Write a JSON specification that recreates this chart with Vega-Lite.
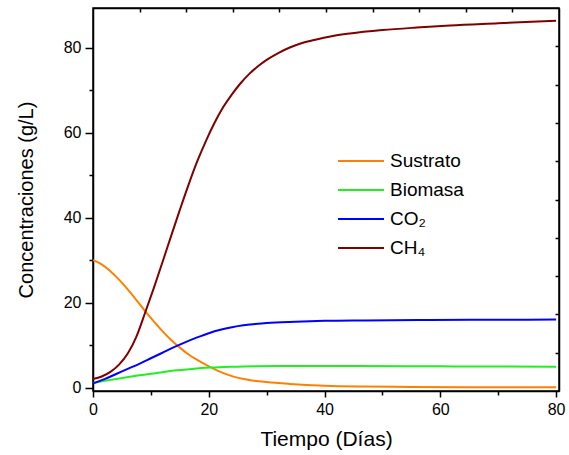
{
  "$schema": "https://vega.github.io/schema/vega-lite/v6.json",
  "autosize": "none",
  "width": 466,
  "height": 383,
  "padding": {"left": 93, "top": 8, "right": 10, "bottom": 64},
  "background": "white",
  "config": {
    "font": "Liberation Sans",
    "view": {"stroke": "black", "strokeWidth": 1.5},
    "axis": {
      "grid": false,
      "domainColor": "black",
      "domainWidth": 1.5,
      "tickColor": "black",
      "tickWidth": 1.5,
      "labelColor": "black",
      "titleColor": "black",
      "labelFont": "Liberation Sans",
      "titleFont": "Liberation Sans",
      "labelFontSize": 16,
      "titleFontSize": 20,
      "titleFontWeight": "normal",
      "labelFlush": false
    }
  },
  "datasets": {
    "curves": [
      {"t": 0, "serie": "Sustrato", "v": 30.0},
      {"t": 1.5, "serie": "Sustrato", "v": 29.0},
      {"t": 3, "serie": "Sustrato", "v": 27.4},
      {"t": 4.5, "serie": "Sustrato", "v": 25.4},
      {"t": 6, "serie": "Sustrato", "v": 23.1},
      {"t": 7.5, "serie": "Sustrato", "v": 20.6},
      {"t": 9, "serie": "Sustrato", "v": 18.0},
      {"t": 10.5, "serie": "Sustrato", "v": 15.6},
      {"t": 12, "serie": "Sustrato", "v": 13.3},
      {"t": 13.5, "serie": "Sustrato", "v": 11.2},
      {"t": 15, "serie": "Sustrato", "v": 9.4},
      {"t": 16.5, "serie": "Sustrato", "v": 7.8},
      {"t": 18, "serie": "Sustrato", "v": 6.5},
      {"t": 20, "serie": "Sustrato", "v": 5.0},
      {"t": 22, "serie": "Sustrato", "v": 3.7},
      {"t": 24, "serie": "Sustrato", "v": 2.7},
      {"t": 27, "serie": "Sustrato", "v": 1.8},
      {"t": 30, "serie": "Sustrato", "v": 1.3},
      {"t": 34, "serie": "Sustrato", "v": 0.87},
      {"t": 40, "serie": "Sustrato", "v": 0.45},
      {"t": 46.7, "serie": "Sustrato", "v": 0.25},
      {"t": 55, "serie": "Sustrato", "v": 0.15},
      {"t": 65, "serie": "Sustrato", "v": 0.1},
      {"t": 80, "serie": "Sustrato", "v": 0.08},
      {"t": 0, "serie": "Biomasa", "v": 1.1},
      {"t": 2.5, "serie": "Biomasa", "v": 1.7},
      {"t": 5.6, "serie": "Biomasa", "v": 2.4},
      {"t": 8.0, "serie": "Biomasa", "v": 2.9},
      {"t": 11.3, "serie": "Biomasa", "v": 3.5},
      {"t": 14.0, "serie": "Biomasa", "v": 4.0},
      {"t": 17.1, "serie": "Biomasa", "v": 4.4},
      {"t": 20.3, "serie": "Biomasa", "v": 4.7},
      {"t": 23.7, "serie": "Biomasa", "v": 4.9},
      {"t": 28.0, "serie": "Biomasa", "v": 5.05},
      {"t": 34.0, "serie": "Biomasa", "v": 5.1},
      {"t": 45.0, "serie": "Biomasa", "v": 5.1},
      {"t": 60.0, "serie": "Biomasa", "v": 5.0},
      {"t": 80.0, "serie": "Biomasa", "v": 4.9},
      {"t": 0, "serie": "CO₂", "v": 1.0},
      {"t": 2, "serie": "CO₂", "v": 2.0},
      {"t": 4, "serie": "CO₂", "v": 3.2},
      {"t": 6, "serie": "CO₂", "v": 4.4},
      {"t": 8, "serie": "CO₂", "v": 5.6},
      {"t": 10, "serie": "CO₂", "v": 6.9},
      {"t": 12, "serie": "CO₂", "v": 8.2},
      {"t": 14, "serie": "CO₂", "v": 9.5},
      {"t": 16, "serie": "CO₂", "v": 10.7},
      {"t": 18, "serie": "CO₂", "v": 11.8},
      {"t": 20, "serie": "CO₂", "v": 12.8},
      {"t": 22, "serie": "CO₂", "v": 13.6},
      {"t": 24, "serie": "CO₂", "v": 14.2},
      {"t": 26, "serie": "CO₂", "v": 14.65},
      {"t": 28, "serie": "CO₂", "v": 14.95},
      {"t": 30, "serie": "CO₂", "v": 15.2},
      {"t": 35, "serie": "CO₂", "v": 15.5},
      {"t": 40, "serie": "CO₂", "v": 15.7},
      {"t": 47, "serie": "CO₂", "v": 15.8},
      {"t": 58, "serie": "CO₂", "v": 15.9},
      {"t": 70, "serie": "CO₂", "v": 15.95},
      {"t": 80, "serie": "CO₂", "v": 16.0},
      {"t": 0, "serie": "CH₄", "v": 2.0},
      {"t": 1.5, "serie": "CH₄", "v": 2.6},
      {"t": 3, "serie": "CH₄", "v": 3.7},
      {"t": 4.5, "serie": "CH₄", "v": 5.4},
      {"t": 6, "serie": "CH₄", "v": 8.0},
      {"t": 7.5, "serie": "CH₄", "v": 12.0},
      {"t": 9, "serie": "CH₄", "v": 17.6},
      {"t": 10.5, "serie": "CH₄", "v": 23.4},
      {"t": 12, "serie": "CH₄", "v": 29.5},
      {"t": 13.5, "serie": "CH₄", "v": 35.7},
      {"t": 15, "serie": "CH₄", "v": 41.8},
      {"t": 16.5, "serie": "CH₄", "v": 47.7},
      {"t": 18, "serie": "CH₄", "v": 53.2},
      {"t": 19.5, "serie": "CH₄", "v": 58.0},
      {"t": 21, "serie": "CH₄", "v": 62.3},
      {"t": 22.5, "serie": "CH₄", "v": 66.0},
      {"t": 24, "serie": "CH₄", "v": 69.0},
      {"t": 25.5, "serie": "CH₄", "v": 71.6},
      {"t": 27, "serie": "CH₄", "v": 73.8},
      {"t": 28.5, "serie": "CH₄", "v": 75.6},
      {"t": 30, "serie": "CH₄", "v": 77.1},
      {"t": 32, "serie": "CH₄", "v": 78.7},
      {"t": 34, "serie": "CH₄", "v": 80.0},
      {"t": 36, "serie": "CH₄", "v": 81.0},
      {"t": 38.6, "serie": "CH₄", "v": 81.9},
      {"t": 41, "serie": "CH₄", "v": 82.6},
      {"t": 44.4, "serie": "CH₄", "v": 83.3},
      {"t": 50, "serie": "CH₄", "v": 84.1},
      {"t": 55.9, "serie": "CH₄", "v": 84.7},
      {"t": 61.7, "serie": "CH₄", "v": 85.2},
      {"t": 70, "serie": "CH₄", "v": 85.7},
      {"t": 80, "serie": "CH₄", "v": 86.3}
    ]
  },
  "data": {"name": "curves"},
  "resolve": {"axis": {"x": "independent", "y": "independent"}},
  "layer": [
    {
      "mark": {"type": "line", "strokeWidth": 2, "interpolate": "monotone"},
      "encoding": {
        "x": {
          "field": "t", "type": "quantitative",
          "scale": {"domain": [0, 80.5], "nice": false, "zero": false},
          "axis": {
            "orient": "bottom",
            "title": "Tiempo (Días)",
            "titleFontSize": 21,
            "values": [0, 10, 20, 30, 40, 50, 60, 70, 80],
            "labelExpr": "datum.value % 20 == 0 ? datum.label : ''",
            "tickSize": {"condition": {"test": "datum.value % 20 == 0", "value": 6}, "value": 4},
            "labelPadding": 4,
            "titlePadding": 11
          }
        },
        "y": {
          "field": "v", "type": "quantitative",
          "scale": {"domain": [-0.8, 89.3], "nice": false, "zero": false},
          "axis": {
            "orient": "left",
            "title": "Concentraciones (g/L)",
            "values": [0, 10, 20, 30, 40, 50, 60, 70, 80],
            "labelExpr": "datum.value % 20 == 0 ? datum.label : ''",
            "tickSize": {"condition": {"test": "datum.value % 20 == 0", "value": 8}, "value": 4},
            "labelPadding": 4,
            "titlePadding": 27
          }
        },
        "color": {
          "field": "serie", "type": "nominal",
          "scale": {
            "domain": ["Sustrato", "Biomasa", "CO₂", "CH₄"],
            "range": ["#ff8000", "#22ee22", "#0000ff", "#800000"]
          },
          "legend": {
            "title": null,
            "orient": "none",
            "legendX": 249,
            "legendY": 134,
            "symbolType": "M-1.28,0H1.28",
            "symbolSize": 1290,
            "symbolStrokeWidth": 2,
            "labelFontSize": 19,
            "labelFont": "Liberation Sans",
            "labelColor": "black",
            "labelOffset": 10,
            "rowPadding": -2
          }
        }
      }
    },
    {
      "mark": {"type": "line", "strokeOpacity": 0},
      "encoding": {
        "x": {
          "field": "t", "type": "quantitative",
          "axis": {
            "orient": "top",
            "title": null,
            "labels": false,
            "domain": true,
            "values": [8.05, 16.1, 24.15, 32.2, 40.25, 48.3, 56.35, 64.4, 72.45],
            "tickSize": -4
          }
        },
        "y": {
          "field": "v", "type": "quantitative",
          "axis": {
            "orient": "right",
            "title": null,
            "labels": false,
            "domain": true,
            "values": [8.21, 17.22, 26.23, 35.24, 44.25, 53.26, 62.27, 71.28, 80.29],
            "tickSize": -4
          }
        },
        "detail": {"field": "serie"}
      }
    }
  ]
}
